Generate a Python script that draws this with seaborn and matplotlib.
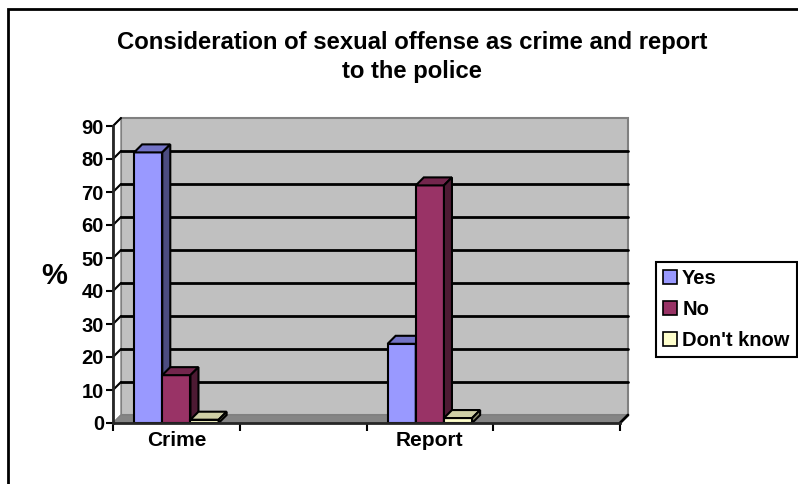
import numpy as np
import pandas as pd
import matplotlib
matplotlib.use("Agg")
import matplotlib.pyplot as plt
from matplotlib.patches import Polygon, Patch, Rectangle
from matplotlib.lines import Line2D
import seaborn as sns

# values (percent)
categories = ["Crime", "Report"]
responses = ["Yes", "No", "Don't know"]
yes_vals = [82, 24]
no_vals = [14.5, 72]
dk_vals = [1, 1.5]

title = "Consideration of sexual offense as crime and report\nto the police"

front_cols = ["#9999FF", "#993366", "#FFFFCC"]
top_cols = ["#7373C6", "#73264D", "#CFCFA6"]
side_cols = ["#4C4C80", "#4D1A33", "#8C8C70"]

df = pd.DataFrame({
    "category": np.repeat(categories, len(responses)),
    "response": responses * len(categories),
    "value": [v for trip in zip(yes_vals, no_vals, dk_vals) for v in trip],
})
# the original has empty category slots after each label
order = ["Crime", "gap1", "Report", "gap2"]

sns.set_style("white")
plt.rcParams["font.family"] = ["Liberation Sans", "DejaVu Sans"]
plt.rcParams["font.weight"] = "bold"
for k in ["text.color", "axes.labelcolor", "xtick.color", "ytick.color"]:
    plt.rcParams[k] = "black"

W, H = 798, 484
fig = plt.figure(figsize=(W / 100, H / 100), dpi=100)
x0, x1, y0, y90 = 113, 620, 423, 126
ax = fig.add_axes([x0 / W, (H - y0) / H, (x1 - x0) / W, (y0 - y90) / H])
ax.set_xlim(-0.5, 3.5)
ax.set_ylim(0, 90)
ax.patch.set_alpha(0)

DEPTH = 8  # pixels of pseudo-3d depth


def off(x, y, d=DEPTH):
    px, py = ax.transData.transform((x, y))
    return tuple(ax.transData.inverted().transform((px + d, py + d)))


# back wall, floor and left side wall
wall = Polygon([off(-0.5, 0), off(3.5, 0), off(3.5, 90), off(-0.5, 90)],
               closed=True, facecolor="#C0C0C0", edgecolor="#808080",
               linewidth=1.5, zorder=0, clip_on=False)
ax.add_patch(wall)
floor = Polygon([(-0.5, 0), (3.5, 0), off(3.5, 0), off(-0.5, 0)],
                closed=True, facecolor="#858585", edgecolor="#808080",
                linewidth=1, zorder=0.5, clip_on=False)
ax.add_patch(floor)
side = Polygon([(-0.5, 0), off(-0.5, 0), off(-0.5, 90), (-0.5, 90)],
               closed=True, facecolor="white", edgecolor="#808080",
               linewidth=1, zorder=0.4, clip_on=False)
ax.add_patch(side)

for v in range(10, 100, 10):
    a = off(-0.5, v)
    ax.add_line(Line2D([-0.5, a[0]], [v, a[1]], color="black", lw=1.5,
                       zorder=1, clip_on=False))
    if v < 90:
        b = off(3.5, v)
        ax.add_line(Line2D([a[0], b[0]], [a[1], b[1]], color="black", lw=2,
                           zorder=1, clip_on=False))
b0 = off(3.5, 0)
ax.add_line(Line2D([3.5, b0[0]], [0, b0[1]], color="black", lw=2,
                   zorder=1, clip_on=False))

sns.barplot(data=df, x="category", y="value", hue="response", order=order,
            hue_order=responses, palette=front_cols, width=2 / 3,
            edgecolor="black", linewidth=1.5, saturation=1, legend=False,
            ax=ax)

# add top and side faces to each bar
for i, container in enumerate(ax.containers):
    for bar in container:
        h = bar.get_height()
        if np.isnan(h):
            continue
        bx0 = bar.get_x()
        bx1 = bx0 + bar.get_width()
        bar.set_zorder(3 + i)
        top = Polygon([(bx0, h), (bx1, h), off(bx1, h), off(bx0, h)],
                      closed=True, facecolor=top_cols[i], edgecolor="black",
                      linewidth=1.5, zorder=3 + i, clip_on=False)
        sd = Polygon([(bx1, 0), off(bx1, 0), off(bx1, h), (bx1, h)],
                     closed=True, facecolor=side_cols[i], edgecolor="black",
                     linewidth=1.5, zorder=3 + i, clip_on=False)
        ax.add_patch(top)
        ax.add_patch(sd)

sns.despine(ax=ax)
for s in ["left", "bottom"]:
    ax.spines[s].set_linewidth(2)
    ax.spines[s].set_zorder(10)
ax.set_yticks(range(0, 100, 10))
ax.tick_params(axis="y", length=5, width=1.5, labelsize=14.5, pad=1.5, left=True)
ax.set_xticks([0, 2], ["Crime", "Report"])
ax.tick_params(axis="x", length=0, labelsize=15, pad=6)
ax.set_xticks([-0.5, 0.5, 1.5, 2.5, 3.5], minor=True)
ax.tick_params(axis="x", which="minor", length=6, width=1.5, bottom=True)
for lab in ax.get_xticklabels() + ax.get_yticklabels():
    lab.set_fontweight("bold")
ax.set_xlabel("")
ax.set_ylabel("")

fig.text(54 / W, 1 - 276 / H, "%", fontsize=21, fontweight="bold",
         ha="center", va="center")
fig.text(412 / W, 1 - 57 / H, title, fontsize=17.2,
         fontweight="bold", ha="center", va="center", linespacing=1.32)

# outer chart border
fig.add_artist(Rectangle((8 / W, -0.1), 1.2, 1 - 9 / H + 0.1,
                         transform=fig.transFigure, fill=False,
                         edgecolor="black", linewidth=2))

handles = [Patch(facecolor=c, edgecolor="black", linewidth=1.2)
           for c in front_cols]
leg = fig.legend(handles, responses, loc="upper left",
                 bbox_to_anchor=(656 / W, 1 - 262 / H), frameon=True,
                 fancybox=False, edgecolor="black", framealpha=1,
                 prop={"size": 14.5, "weight": "bold"}, handlelength=0.7,
                 handleheight=0.7, handletextpad=0.25, labelspacing=0.6,
                 borderpad=0.35, borderaxespad=0)
leg.get_frame().set_linewidth(1.5)

fig.savefig("out.png", dpi=100)
